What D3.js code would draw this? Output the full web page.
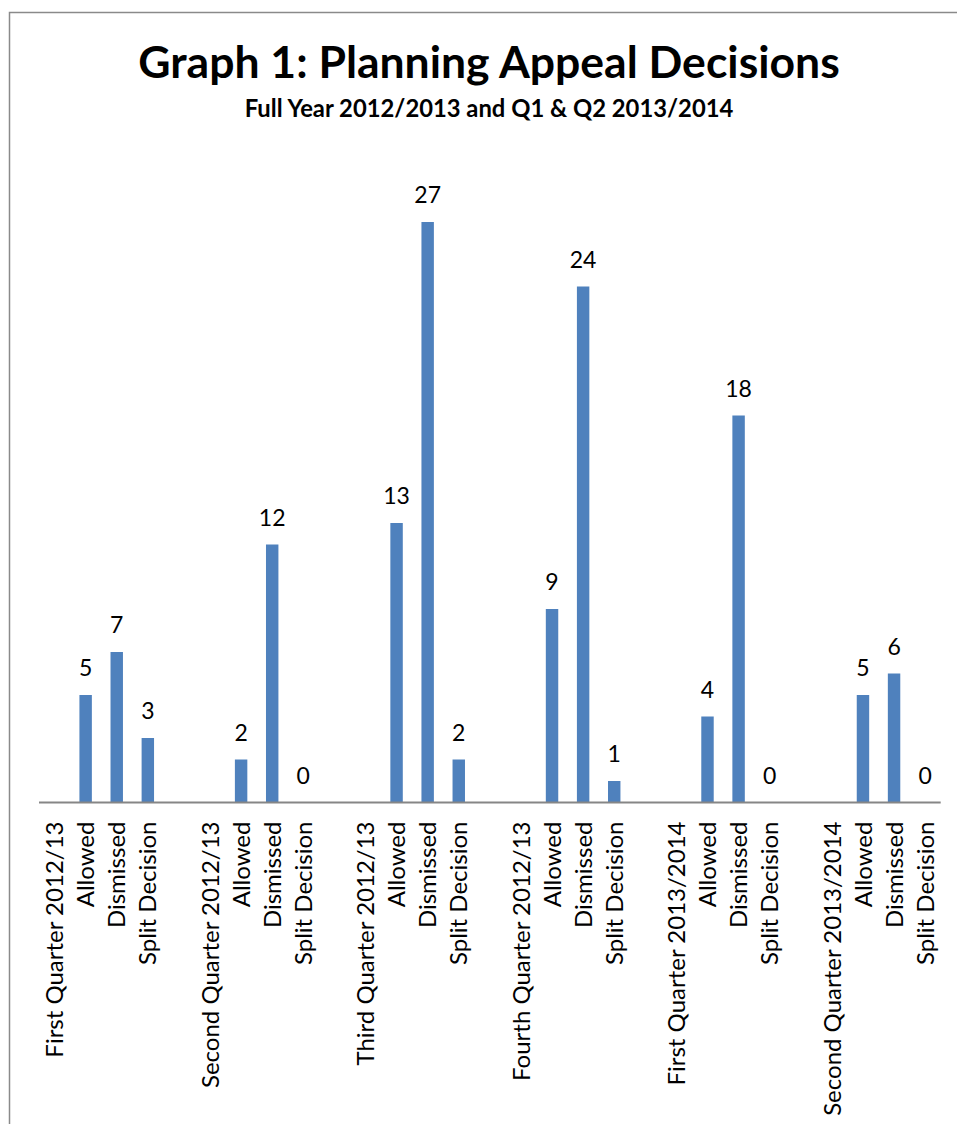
<!DOCTYPE html>
<html>
<head>
<meta charset="utf-8">
<script src="https://cdn.jsdelivr.net/npm/d3@7"></script>
<style>
  html, body { margin: 0; padding: 0; background: #fff; }
  svg { display: block; }
  text { font-family: Lato, "Open Sans", sans-serif; }
</style>
</head>
<body>
<svg id="chart" width="957" height="1124"></svg>
<script>
// ---- data ----
const titleText = "Graph 1: Planning Appeal Decisions";
const subtitleText = "Full Year 2012/2013 and Q1 & Q2 2013/2014";
const categories = [
  "First Quarter 2012/13", "Allowed", "Dismissed", "Split Decision", "",
  "Second Quarter 2012/13", "Allowed", "Dismissed", "Split Decision", "",
  "Third Quarter 2012/13", "Allowed", "Dismissed", "Split Decision", "",
  "Fourth Quarter 2012/13", "Allowed", "Dismissed", "Split Decision", "",
  "First Quarter 2013/2014", "Allowed", "Dismissed", "Split Decision", "",
  "Second Quarter 2013/2014", "Allowed", "Dismissed", "Split Decision"
];
const values = [
  null, 5, 7, 3, null,
  null, 2, 12, 0, null,
  null, 13, 27, 2, null,
  null, 9, 24, 1, null,
  null, 4, 18, 0, null,
  null, 5, 6, 0
];
const yMax = 30;

// ---- layout ----
const svg = d3.select("#chart");
const plot = { left: 39, right: 940.7, top: 157.5, bottom: 802.5 };

const x = d3.scaleBand()
  .domain(d3.range(categories.length))
  .range([plot.left, plot.right])
  .paddingInner(0.6)
  .paddingOuter(0.3);

const y = d3.scaleLinear().domain([0, yMax]).range([plot.bottom, plot.top]);

// chart frame (only top and left edges visible)
svg.append("path")
  .attr("d", "M9.5,1124 L9.5,12.5 L957,12.5")
  .attr("fill", "none")
  .attr("stroke", "#8a8a8a")
  .attr("stroke-width", 1.5);

// title
svg.append("text")
  .attr("x", 489).attr("y", 78)
  .attr("text-anchor", "middle")
  .attr("font-weight", "bold")
  .attr("font-size", 44.5)
  .attr("fill", "#000")
  .text(titleText);

svg.append("text")
  .attr("x", 489).attr("y", 117)
  .attr("text-anchor", "middle")
  .attr("font-weight", "bold")
  .attr("font-size", 23.8)
  .attr("fill", "#000")
  .text(subtitleText);

const data = categories.map((c, i) => ({ i, c, v: values[i] }));

// bars
svg.append("g").selectAll("rect")
  .data(data.filter(d => d.v !== null))
  .join("rect")
  .attr("x", d => x(d.i))
  .attr("width", x.bandwidth())
  .attr("y", d => y(d.v))
  .attr("height", d => y(0) - y(d.v))
  .attr("fill", "#4F81BD");

// value labels
svg.append("g").selectAll("text")
  .data(data.filter(d => d.v !== null))
  .join("text")
  .attr("x", d => x(d.i) + x.bandwidth() / 2)
  .attr("y", d => y(d.v) - 19)
  .attr("text-anchor", "middle")
  .attr("font-size", 23)
  .attr("fill", "#000")
  .text(d => d.v);

// category axis
const axis = svg.append("g")
  .attr("transform", `translate(0,${plot.bottom})`)
  .call(d3.axisBottom(x).tickSize(0).tickFormat(i => categories[i]));
axis.select(".domain")
  .attr("stroke", "#868686")
  .attr("stroke-width", 2)
  .attr("d", `M${plot.left},0H${plot.right}`);
axis.selectAll(".tick text")
  .attr("font-family", "Lato, 'Open Sans', sans-serif")
  .attr("font-size", 24)
  .attr("fill", "#000")
  .attr("text-anchor", "end")
  .attr("x", 0).attr("y", 0)
  .attr("dy", "0.36em")
  .attr("transform", "translate(0,19) rotate(-90)");
</script>
</body>
</html>
